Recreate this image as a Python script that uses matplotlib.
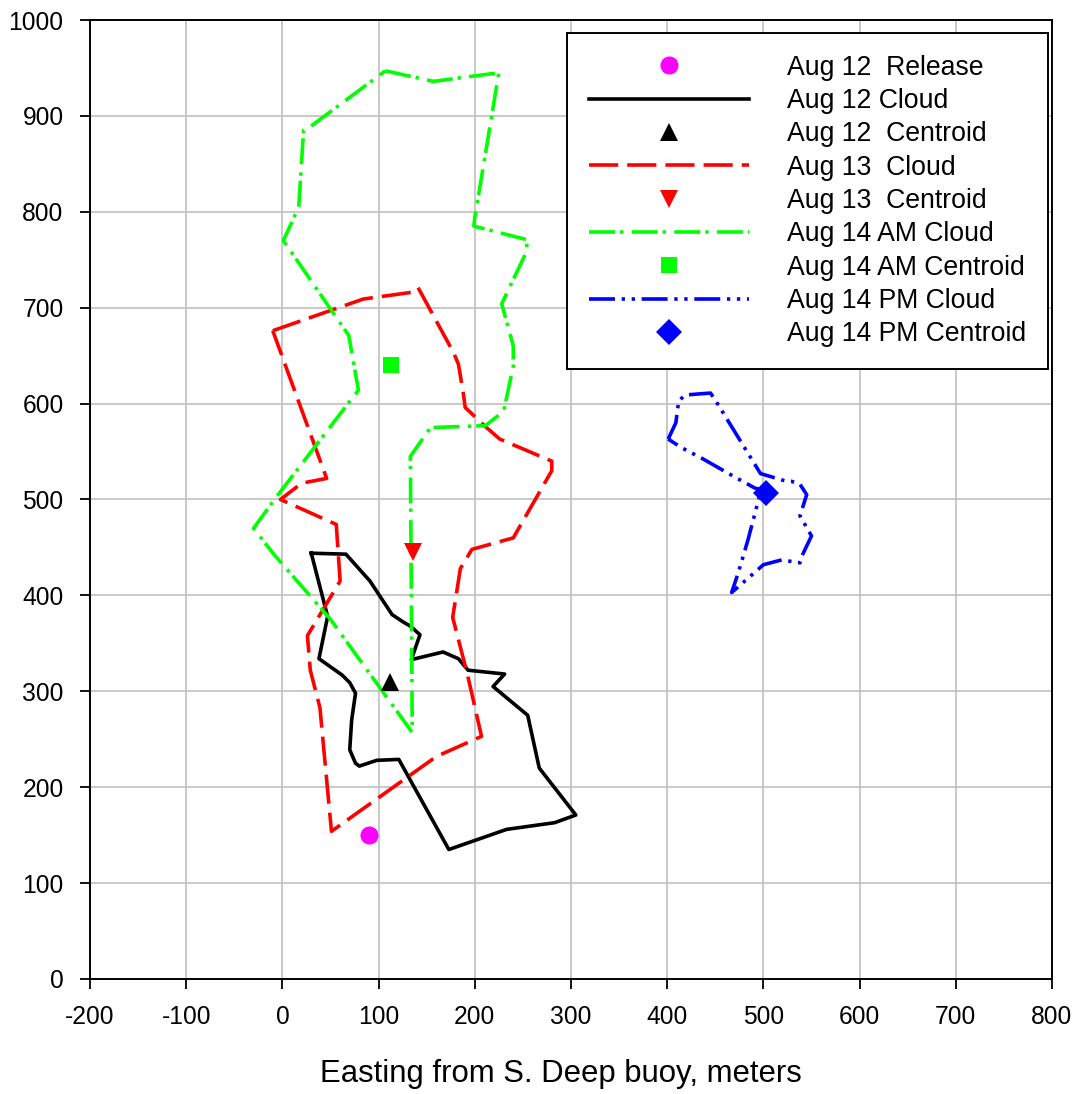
import matplotlib
matplotlib.use("Agg")
import matplotlib.pyplot as plt

plt.rcParams['font.family'] = ['Liberation Sans', 'DejaVu Sans']
plt.rcParams['lines.scale_dashes'] = False

# ---------------- data ----------------
release_x = [90]
release_y = [150]

aug12_x = [30, 66, 91, 114, 126, 133, 143, 134, 167, 183, 193, 231, 219, 255, 267,
           305, 283, 233, 173, 121, 98, 80, 76, 70, 72, 76, 70, 62, 38, 47, 30]
aug12_y = [444, 443, 415, 380, 372, 368, 359, 333, 341, 334, 322, 318, 305, 275, 220,
           171, 163, 156, 135, 229, 228, 222, 225, 239, 270, 298, 309, 317, 334, 378, 444]
aug12_cx = [111.5]
aug12_cy = [310]

aug13_x = [-10, 84, 134, 141, 178, 183, 188, 190, 211, 226, 280, 280, 240, 197, 185,
           177, 192, 207, 160, 51, 39, 29, 26, 60, 56, -2, 20, 46, -10]
aug13_y = [676, 709, 716, 721, 653, 641, 611, 596, 576, 563, 540, 530, 460, 448, 428,
           377, 319, 253, 232, 154, 283, 322, 358, 415, 474, 500, 517, 522, 676]
aug13_cx = [135.7]
aug13_cy = [445]

aug14am_x = [107, 157, 225, 200, 199, 254, 254, 228, 240, 240, 230, 211, 154, 133,
             135, 50, -9, -30, -6, 79, 69, 1, 17, 22, 32, 107]
aug14am_y = [947, 936, 945, 794, 785, 771, 759, 704, 660, 639, 592, 577, 575, 545,
             257, 375, 443, 470, 503, 614, 671, 770, 805, 885, 891, 947]
aug14am_cx = [113]
aug14am_cy = [640]

aug14pm_x = [401, 409, 412, 419, 445, 451, 497, 524, 529, 538, 545, 538, 550, 540, 538,
             519, 500, 491, 467, 474, 484, 495, 498, 491, 471, 436, 415, 401]
aug14pm_y = [563, 580, 603, 609, 611, 602, 527, 519, 519, 516, 505, 483, 462, 441, 434,
             437, 432, 424, 403, 424, 458, 500, 510, 512, 523, 543, 554, 563]
aug14pm_cx = [503]
aug14pm_cy = [507]

x_ticks = [-200, -100, 0, 100, 200, 300, 400, 500, 600, 700, 800]
y_ticks = [0, 100, 200, 300, 400, 500, 600, 700, 800, 900, 1000]

labels = ["Aug 12  Release", "Aug 12 Cloud", "Aug 12  Centroid", "Aug 13  Cloud",
          "Aug 13  Centroid", "Aug 14 AM Cloud", "Aug 14 AM Centroid",
          "Aug 14 PM Cloud", "Aug 14 PM Centroid"]

# ---------------- figure ----------------
W, H = 1081, 1094
fig = plt.figure(figsize=(W / 100, H / 100), dpi=100)
ax = fig.add_axes([90 / W, (H - 979) / H, 962 / W, 959 / H])

lw = 2.6
h = []
h += ax.plot(release_x, release_y, 'o', color='#ff00ff', ms=13, mew=0, zorder=5)
h += ax.plot(aug12_x, aug12_y, '-', color='black', lw=lw, zorder=3)
h += ax.plot(aug12_cx, aug12_cy, '^', color='black', ms=13, mew=0, zorder=5)
h += ax.plot(aug13_x, aug13_y, color='#ff0000', lw=lw, linestyle=(0, (21, 6.5)),
             zorder=3)
h += ax.plot(aug13_cx, aug13_cy, 'v', color='#ff0000', ms=13, mew=0, zorder=5)
h += ax.plot(aug14am_x, aug14am_y, color='#00ff00', lw=lw,
             linestyle=(0, (18.7, 3.6, 2.4, 6)), zorder=3)
h += ax.plot(aug14am_cx, aug14am_cy, 's', color='#00ff00', ms=11.5, mew=0, zorder=5)
h += ax.plot(aug14pm_x, aug14pm_y, color='#0000ff', lw=lw,
             linestyle=(0, (18.7, 4.8, 2.4, 4.8, 2.4, 4.8)), zorder=3)
h += ax.plot(aug14pm_cx, aug14pm_cy, 'D', color='#0000ff', ms=13.5, mew=0, zorder=5)

ax.set_xlim(-200, 800)
ax.set_ylim(0, 1000)
ax.set_xticks(x_ticks)
ax.set_yticks(y_ticks)
ax.set_xticklabels([str(v) for v in x_ticks])
ax.set_yticklabels([str(v) for v in y_ticks])
ax.tick_params(direction='out', length=7, width=1.3, labelsize=17.7, pad=12,
               color='black')
ax.grid(True, color='#c0c0c0', lw=1.2, zorder=0)
ax.set_axisbelow(True)
for s in ax.spines.values():
    s.set_linewidth(1.4)
    s.set_color('black')

fig.text(561 / W, (H - 1082) / H, "Easting from S. Deep buoy, meters",
         ha='center', va='baseline', fontsize=22.4)

leg = ax.legend(h, labels, loc='upper right',
                bbox_to_anchor=(1047.7 / W, 1 - 32.7 / H),
                bbox_transform=fig.transFigure, borderaxespad=0,
                fontsize=19.2, handlelength=6.0, handletextpad=1.43,
                borderpad=0.82, labelspacing=0.275, numpoints=1,
                fancybox=False, framealpha=1, edgecolor='black')
leg.get_frame().set_linewidth(1.4)
leg.set_zorder(10)

fig.savefig("out.png", dpi=100)
